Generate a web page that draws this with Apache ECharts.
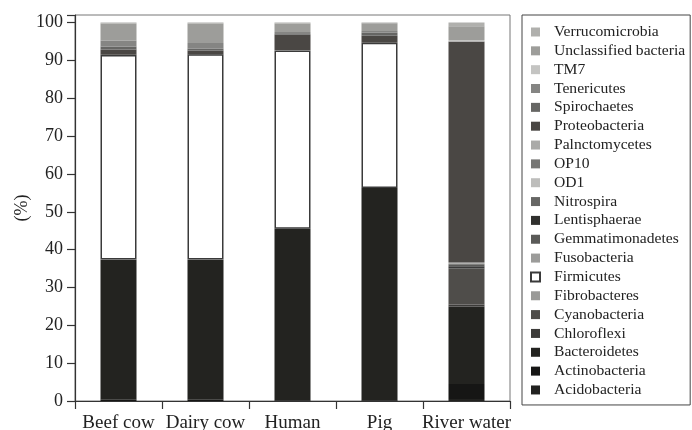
<!DOCTYPE html>
<html>
<head>
<meta charset="utf-8">
<script src="https://cdn.jsdelivr.net/npm/echarts@6/dist/echarts.min.js"></script>
<style>
  html, body { margin: 0; padding: 0; background: #fff; }
  #chart { width: 692px; height: 430px; }
</style>
</head>
<body>
<div id="chart"></div>
<script>
// samples on x axis
const categories = ['Beef cow', 'Dairy cow', 'Human', 'Pig', 'River water']
const yTicks = [0, 10, 20, 30, 40, 50, 60, 70, 80, 90, 100]

// phyla, stacked bottom-up (legend shows them reversed)
const phyla = ['Acidobacteria', 'Actinobacteria', 'Bacteroidetes', 'Chloroflexi', 'Cyanobacteria',
  'Fibrobacteres', 'Firmicutes', 'Fusobacteria', 'Gemmatimonadetes', 'Lentisphaerae', 'Nitrospira',
  'OD1', 'OP10', 'Palnctomycetes', 'Proteobacteria', 'Spirochaetes', 'Tenericutes', 'TM7',
  'Unclassified bacteria', 'Verrucomicrobia']

// relative abundance (%) per sample
const Acidobacteria = [0, 0, 0, 0, 0.5]
const Actinobacteria = [0.3, 0.3, 0.2, 0.2, 4.0]
const Bacteroidetes = [37.0, 37.0, 45.3, 56.1, 20.5]
const Chloroflexi = [0, 0, 0, 0, 0.5]
const Cyanobacteria = [0, 0, 0, 0, 9.5]
const Fibrobacteres = [0.1, 0.1, 0, 0, 0]
const Firmicutes = [54.0, 54.2, 47.1, 38.4, 0.6]
const Fusobacteria = [0, 0, 0.1, 0, 0]
const Gemmatimonadetes = [0, 0, 0, 0, 0.4]
const Lentisphaerae = [0.1, 0.1, 0, 0, 0]
const Nitrospira = [0, 0, 0, 0, 0.2]
const OD1 = [0, 0, 0, 0, 0.1]
const OP10 = [0, 0, 0, 0, 0.1]
const Palnctomycetes = [0, 0, 0, 0, 0.2]
const Proteobacteria = [1.4, 0.9, 4.1, 1.8, 58.4]
const Spirochaetes = [0.8, 0.5, 0.2, 0.8, 0]
const Tenericutes = [1.5, 1.5, 0.5, 0.5, 0]
const TM7 = [0, 0, 0, 0, 0.4]
const Unclassified = [4.5, 5.1, 2.2, 2.0, 3.6]
const Verrucomicrobia = [0.3, 0.3, 0.3, 0.2, 1.0]

const values = [Acidobacteria, Actinobacteria, Bacteroidetes, Chloroflexi, Cyanobacteria,
  Fibrobacteres, Firmicutes, Fusobacteria, Gemmatimonadetes, Lentisphaerae, Nitrospira,
  OD1, OP10, Palnctomycetes, Proteobacteria, Spirochaetes, Tenericutes, TM7,
  Unclassified, Verrucomicrobia]

const colors = ['#222220', '#161615', '#232320', '#3c3b39', '#4f4d4a',
  '#9a9a98', '#ffffff', '#9c9c9a', '#5a5a58', '#30302e', '#666664',
  '#bdbdbb', '#777775', '#aaaaa8', '#4a4744', '#666664', '#858583', '#c4c4c2',
  '#9d9d9a', '#b0b0ad']

const serif = 'Liberation Serif'

let myChart = echarts.init(document.getElementById('chart'))

let series = phyla.map((name, i) => {
  let s = {
    name: name,
    type: 'bar',
    stack: 'all',
    barWidth: 36,
    itemStyle: { color: colors[i] },
    data: values[i]
  }
  if (name === 'Firmicutes') {
    s.itemStyle = { color: '#ffffff', borderColor: '#3a3a3a', borderWidth: 1.5 }
  }
  return s
})

let option = {
  animation: false,
  grid: {
    left: 75,
    right: 182,
    top: 15,
    bottom: 29,
    outerBoundsMode: 'none',
    show: true,
    borderColor: '#777',
    borderWidth: 1
  },
  legend: {
    orient: 'vertical',
    left: 522,
    top: 15,
    padding: [9, 5, 7, 8],
    borderColor: '#444',
    borderWidth: 1,
    itemWidth: 9,
    itemHeight: 9,
    itemGap: 2.84,
    icon: 'rect',
    data: phyla.slice().reverse(),
    formatter: '{t|{name}}',
    textStyle: {
      fontFamily: serif,
      fontSize: 15.6,
      color: '#222',
      rich: {
        t: {
          fontFamily: serif,
          fontSize: 15.6,
          lineHeight: 16,
          color: '#222',
          padding: [0, 0, 0, 9]
        }
      }
    }
  },
  xAxis: {
    type: 'category',
    data: categories,
    axisLine: {
      lineStyle: { color: '#333', width: 1.2 }
    },
    axisTick: {
      show: true,
      length: 8,
      lineStyle: { color: '#333', width: 1.2 }
    },
    axisLabel: {
      margin: 13,
      color: '#222',
      fontFamily: serif,
      fontSize: 19,
      interval: 0
    }
  },
  yAxis: {
    type: 'value',
    min: 0,
    max: 102,
    interval: 10,
    name: '(%)',
    nameLocation: 'middle',
    nameGap: 44,
    nameMoveOverlap: false,
    nameTextStyle: {
      color: '#222',
      fontFamily: serif,
      fontSize: 18
    },
    splitLine: { show: false },
    axisLine: {
      show: true,
      lineStyle: { color: '#333', width: 1.2 }
    },
    axisTick: {
      show: true,
      length: 8,
      lineStyle: { color: '#333', width: 1.2 }
    },
    axisLabel: {
      margin: 12,
      color: '#222',
      fontFamily: serif,
      fontSize: 18,
      formatter: (v) => yTicks.indexOf(v) >= 0 ? String(v) : ''
    }
  },
  series: series
}
myChart.setOption(option)
</script>
</body>
</html>
